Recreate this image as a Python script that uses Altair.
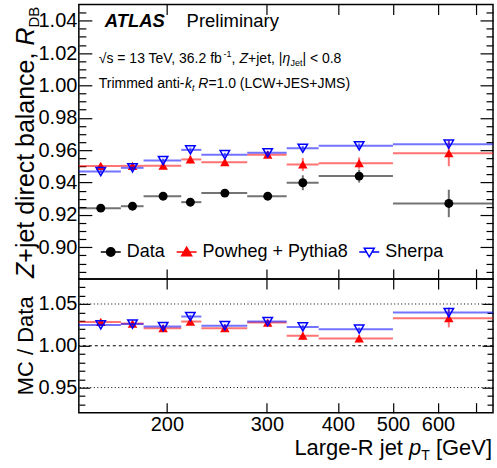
import altair as alt
import pandas as pd

FONT = "Liberation Sans"

series_names = ["Data", "Powheg + Pythia8", "Sherpa"]

bin_lo = [140, 166, 182, 212, 230, 277, 325, 370, 500]
bin_hi = [166, 182, 212, 230, 277, 325, 370, 500, 750]
bin_center = [153, 174, 197, 220, 253, 301, 347, 436, 627]

data_rdb = [0.9242, 0.9254, 0.9316, 0.9279, 0.9335, 0.9316, 0.9399, 0.9440, 0.9271]
data_err = [0.0015, 0.0015, 0.0018, 0.0025, 0.0018, 0.0023, 0.0046, 0.0040, 0.0085]
powheg_rdb = [0.9503, 0.9503, 0.9504, 0.9543, 0.9526, 0.9572, 0.9512, 0.9520, 0.9581]
powheg_err = [0.0015, 0.0015, 0.0018, 0.0025, 0.0020, 0.0020, 0.0040, 0.0035, 0.0080]
sherpa_rdb = [0.9468, 0.9491, 0.9536, 0.9602, 0.9572, 0.9584, 0.9612, 0.9627, 0.9637]
sherpa_err = [0.0010, 0.0010, 0.0012, 0.0015, 0.0012, 0.0012, 0.0015, 0.0015, 0.0020]

ratio_powheg = [1.0285, 1.0266, 1.0210, 1.0290, 1.0210, 1.0278, 1.0120, 1.0087, 1.0330]
ratio_powheg_err = [0.0020, 0.0020, 0.0025, 0.0030, 0.0025, 0.0025, 0.0050, 0.0045, 0.0110]
ratio_sherpa = [1.0250, 1.0260, 1.0230, 1.0350, 1.0240, 1.0290, 1.0226, 1.0199, 1.0397]
ratio_sherpa_err = [0.0015, 0.0015, 0.0020, 0.0020, 0.0020, 0.0020, 0.0025, 0.0020, 0.0060]

x_major = [200, 300, 400, 500, 600, 700]
y_top_major = [0.90, 0.92, 0.94, 0.96, 0.98, 1.00, 1.02, 1.04]
y_top_minor = [0.885, 0.89, 0.895, 0.905, 0.91, 0.915, 0.925, 0.93, 0.935, 0.945, 0.95, 0.955,
               0.965, 0.97, 0.975, 0.985, 0.99, 0.995, 1.005, 1.01, 1.015, 1.025, 1.03, 1.035, 1.045]
y_bot_major = [0.95, 1.00, 1.05]
y_bot_minor = [0.93, 0.94, 0.96, 0.97, 0.98, 0.99, 1.01, 1.02, 1.03, 1.04, 1.06, 1.07]
ref_dotted = [0.95, 1.05]
ref_dashed = [1.00]

legend_paths = [
    "M-1,0L-0.42,0M0.42,0L1,0M-0.42,0A0.42,0.42,0,1,1,0.42,0A0.42,0.42,0,1,1,-0.42,0Z",
    "M-1,0L1,0M0,-0.48L0.5,0.38L-0.5,0.38Z",
    "M-1,0L-0.3,0M0.3,0L1,0M-0.5,-0.38L0.5,-0.38L0,0.48Z",
]

XS = alt.Scale(type="log", domain=[140, 750], nice=False)
YT = alt.Scale(domain=[0.8805, 1.05], nice=False, zero=False)
YB = alt.Scale(domain=[0.92, 1.08], nice=False, zero=False)


def frame(val, err):
    return pd.DataFrame({
        "lo": bin_lo, "hi": bin_hi, "c": bin_center, "v": val,
        "elo": [v - e for v, e in zip(val, err)],
        "ehi": [v + e for v, e in zip(val, err)],
    })


def tick_axis(orient, size, values, **kw):
    base = dict(orient=orient, offset=-size, tickSize=size, values=values, domain=False,
                grid=False, ticks=True, tickColor="black", tickWidth=1.2, labels=False, title=None)
    base.update(kw)
    return alt.Axis(**base)


LBL = dict(labels=True, labelFont=FONT, labelFontSize=20, labelColor="black")

TX_B = tick_axis("bottom", 10, x_major)
TX_T = tick_axis("top", 10, x_major)
TY_LM = tick_axis("left", 13, y_top_major, format=".2f", labelPadding=2, **LBL)
TY_Lm = tick_axis("left", 7, y_top_minor)
TY_RM = tick_axis("right", 13, y_top_major)
TY_Rm = tick_axis("right", 7, y_top_minor)

BX_B = tick_axis("bottom", 10, x_major, format="d", labelPadding=2, labelOverlap=False,
                 labelFlush=False, labelExpr="datum.value == 700 ? '' : datum.label", **LBL)
BX_T = tick_axis("top", 10, x_major)
BY_LM = tick_axis("left", 11, y_bot_major, format=".2f", labelPadding=2, **LBL)
BY_Lm = tick_axis("left", 6, y_bot_minor)
BY_RM = tick_axis("right", 11, y_bot_major)
BY_Rm = tick_axis("right", 6, y_bot_minor)


def hrule(df, ys, color, xa=None, ya=None):
    return alt.Chart(df).mark_rule(color=color, strokeWidth=2, opacity=0.55).encode(
        x=alt.X("lo:Q", scale=XS, axis=xa), x2=alt.X2("hi"),
        y=alt.Y("v:Q", scale=ys, axis=ya))


def vrule(df, ys, color, xa=None, ya=None):
    return alt.Chart(df).mark_rule(color=color, strokeWidth=2, opacity=0.55).encode(
        x=alt.X("c:Q", scale=XS, axis=xa),
        y=alt.Y("elo:Q", scale=ys, axis=ya), y2=alt.Y2("ehi"))


def points(df, ys, shape, color, filled, size, ya=None):
    return alt.Chart(df).mark_point(shape=shape, color=color, filled=filled, size=size,
                                    strokeWidth=1.5, opacity=1).encode(
        x=alt.X("c:Q", scale=XS, axis=None),
        y=alt.Y("v:Q", scale=ys, axis=ya))


DUMMY = pd.DataFrame({"a": [1]})


def txt(s, x, y, size, style="normal", weight="normal", angle=0, align="left"):
    return alt.Chart(DUMMY).mark_text(
        text=s, font=FONT, fontSize=size, fontStyle=style, fontWeight=weight,
        angle=angle, align=align, baseline="alphabetic", color="black").encode(
        x=alt.value(x), y=alt.value(y))


# ---------- top panel ----------
d_top = frame(data_rdb, data_err)
p_top = frame(powheg_rdb, powheg_err)
s_top = frame(sherpa_rdb, sherpa_err)

LEG = alt.Legend(title=None, orient="none", legendX=21, legendY=237, direction="horizontal",
                 columns=3, labelFont=FONT, labelFontSize=18, labelColor="black", labelOffset=5,
                 columnPadding=8, symbolSize=400, symbolStrokeWidth=1.5, symbolOpacity=1,
                 padding=0, labelLimit=300)

legend_layer = alt.Chart(pd.DataFrame({"series": series_names})).mark_point(opacity=0).encode(
    shape=alt.Shape("series:N", scale=alt.Scale(domain=series_names, range=legend_paths), legend=LEG),
    color=alt.Color("series:N", scale=alt.Scale(domain=series_names, range=["black", "red", "blue"]), legend=LEG),
    fill=alt.Fill("series:N", scale=alt.Scale(domain=series_names, range=["black", "red", "transparent"]), legend=LEG),
)

top_layers = [
    hrule(d_top, YT, "black", TX_B, TY_LM),
    vrule(d_top, YT, "black", TX_T, TY_Lm),
    points(d_top, YT, "circle", "black", True, 80, TY_RM),
    hrule(p_top, YT, "red", None, TY_Rm),
    vrule(p_top, YT, "red"),
    points(p_top, YT, "triangle-up", "red", True, 90),
    hrule(s_top, YT, "blue"),
    vrule(s_top, YT, "blue"),
    points(s_top, YT, "triangle-down", "blue", False, 90),
    legend_layer,
    txt("ATLAS", 26, 23, 18.5, style="italic", weight="bold"),
    txt("Preliminary", 108, 23, 18.5),
    txt("√s = 13 TeV, 36.2 fb", 20, 59, 14),
    txt("-1", 145, 53, 9),
    txt(",", 153, 59, 14),
    txt("Z", 161, 59, 14, style="italic"),
    txt("+jet, |", 169.6, 59, 14),
    txt("η", 204, 59, 14, style="italic"),
    txt("Jet", 212, 62, 9),
    txt("| < 0.8", 224, 59, 14),
    txt("Trimmed anti-", 20, 84, 14),
    txt("k", 106.3, 84, 14, style="italic"),
    txt("t", 113.3, 87, 9, style="italic"),
    txt("R", 119.7, 84, 14, style="italic"),
    txt("=1.0 (LCW+JES+JMS)", 129.8, 84, 14),
    txt("Z", -45, 274, 25, style="italic", angle=270),
    txt("+jet direct balance,", -45, 258.7, 25, angle=270),
    txt("R", -45, 41.2, 25, style="italic", angle=270),
    txt("DB", -40, 23.2, 15, angle=270),
]

top = alt.layer(*top_layers).properties(width=415, height=275).resolve_axis(
    x="independent", y="independent")

# ---------- ratio panel ----------
p_bot = frame(ratio_powheg, ratio_powheg_err)
s_bot = frame(ratio_sherpa, ratio_sherpa_err)

ref1 = alt.Chart(pd.DataFrame({"r": ref_dotted})).mark_rule(
    color="black", strokeWidth=1, strokeDash=[1, 2.5]).encode(
    y=alt.Y("r:Q", scale=YB, axis=BY_LM))
ref2 = alt.Chart(pd.DataFrame({"r": ref_dashed})).mark_rule(
    color="black", strokeWidth=1.2, strokeDash=[3, 3]).encode(
    y=alt.Y("r:Q", scale=YB, axis=None))

bot_layers = [
    ref1, ref2,
    hrule(p_bot, YB, "red", BX_B, BY_Lm),
    vrule(p_bot, YB, "red", BX_T, BY_RM),
    points(p_bot, YB, "triangle-up", "red", True, 90, BY_Rm),
    hrule(s_bot, YB, "blue"),
    vrule(s_bot, YB, "blue"),
    points(s_bot, YB, "triangle-down", "blue", False, 90),
    txt("MC / Data", -46, 67, 22, angle=270, align="center"),
    txt("Large-R jet", 216, 176, 22),
    txt("p", 330.9, 176, 22, style="italic"),
    txt("T", 343.1, 181, 14),
    txt("[GeV]", 357.8, 176, 22),
]

bottom = alt.layer(*bot_layers).properties(width=415, height=134).resolve_axis(
    x="independent", y="independent")

chart = alt.vconcat(top, bottom, spacing=0, bounds="flush").properties(
    padding={"left": 13, "top": 2, "right": 2, "bottom": 5}
).configure_view(stroke="black", strokeWidth=1.5)

chart.save("out.html", embed_options={"renderer": "svg", "actions": False})
